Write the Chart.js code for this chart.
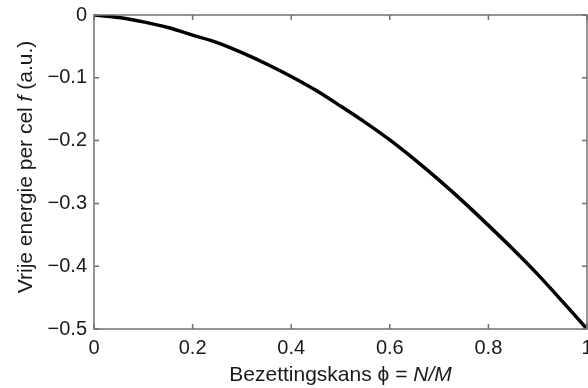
<!DOCTYPE html>
<html>
<head>
<meta charset="utf-8">
<script src="https://cdn.jsdelivr.net/npm/chart.js@4.4.1/dist/chart.umd.min.js"></script>
<style>
    html, body { margin: 0; padding: 0; background: #fff; }
    #wrap { width: 588px; height: 388px; }
</style>
</head>
<body>
<div id="wrap"><canvas id="energyChart" width="588" height="388"></canvas></div>
<script>
// occupation probability phi = N/M and free energy per cell f (a.u.)
const phi = [0, 0.05, 0.1, 0.15, 0.2, 0.25, 0.3, 0.35, 0.4, 0.45, 0.5,
             0.55, 0.6, 0.65, 0.7, 0.75, 0.8, 0.85, 0.9, 0.95, 1];
const energy = [0, -0.004, -0.011, -0.020, -0.032, -0.044, -0.060, -0.078, -0.098, -0.120, -0.145,
                -0.171, -0.199, -0.230, -0.263, -0.298, -0.335, -0.373, -0.413, -0.456, -0.5];

const xTicks = [0, 0.2, 0.4, 0.6, 0.8, 1];
const xTickLabels = ['0', '0.2', '0.4', '0.6', '0.8', '1'];
const yTicks = [-0.5, -0.4, -0.3, -0.2, -0.1, 0];
const yTickLabels = ['\u22120.5', '\u22120.4', '\u22120.3', '\u22120.2', '\u22120.1', '0'];

const FONT = '"Liberation Sans", Arial, Helvetica, sans-serif';
const AXIS_COLOR = '#707070';
const TEXT_COLOR = '#1a1a1a';

// box around the plot area with inward ticks on all four sides
const framePlugin = {
    id: 'frame',
    afterDraw(chart) {
        const { ctx, chartArea: a, scales } = chart;
        const len = 5;
        ctx.save();
        ctx.strokeStyle = AXIS_COLOR;
        ctx.lineWidth = 1.5;
        ctx.strokeRect(a.left, a.top, a.right - a.left, a.bottom - a.top);
        ctx.beginPath();
        xTicks.forEach(v => {
            const x = scales.x.getPixelForValue(v);
            ctx.moveTo(x, a.bottom); ctx.lineTo(x, a.bottom - len);
            ctx.moveTo(x, a.top); ctx.lineTo(x, a.top + len);
        });
        yTicks.forEach(v => {
            const y = scales.y.getPixelForValue(v);
            ctx.moveTo(a.left, y); ctx.lineTo(a.left + len, y);
            ctx.moveTo(a.right, y); ctx.lineTo(a.right - len, y);
        });
        ctx.stroke();
        ctx.restore();
    }
};

// axis titles with italic parts
function drawMixed(ctx, parts, cx, cy, size) {
    const widths = parts.map(p => {
        ctx.font = (p.italic ? 'italic ' : '') + size + 'px ' + FONT;
        return ctx.measureText(p.text).width;
    });
    const total = widths.reduce((s, w) => s + w, 0);
    let x = cx - total / 2;
    parts.forEach((p, i) => {
        ctx.font = (p.italic ? 'italic ' : '') + size + 'px ' + FONT;
        ctx.fillText(p.text, x, cy);
        x += widths[i];
    });
}

const titlePlugin = {
    id: 'axisTitles',
    afterDraw(chart) {
        const { ctx, chartArea: a } = chart;
        ctx.save();
        ctx.fillStyle = TEXT_COLOR;
        ctx.textAlign = 'left';
        ctx.textBaseline = 'alphabetic';
        drawMixed(ctx, [
            { text: 'Bezettingskans \u03d5 = ' },
            { text: 'N/M', italic: true }
        ], (a.left + a.right) / 2, 381, 21);

        ctx.translate(32, (a.top + a.bottom) / 2 - 5);
        ctx.rotate(-Math.PI / 2);
        drawMixed(ctx, [
            { text: 'Vrije energie per cel ' },
            { text: 'f', italic: true },
            { text: ' (a.u.)' }
        ], 0, 0, 21);
        ctx.restore();
    }
};

new Chart(document.getElementById('energyChart'), {
    type: 'scatter',
    data: {
        datasets: [{
            data: phi.map((p, i) => ({ x: p, y: energy[i] })),
            showLine: true,
            borderColor: '#000',
            borderWidth: 3.5,
            pointRadius: 0,
            tension: 0.3,
            fill: false
        }]
    },
    options: {
        responsive: false,
        animation: false,
        layout: { padding: { top: 15, right: 1, left: 0, bottom: 0 } },
        plugins: {
            legend: { display: false },
            tooltip: { enabled: false }
        },
        scales: {
            x: {
                type: 'linear',
                min: 0,
                max: 1,
                afterFit(scale) {
                    scale.height = 59;
                    scale.paddingLeft = 0;
                    scale.paddingRight = 0;
                },
                afterBuildTicks(scale) { scale.ticks = xTicks.map(v => ({ value: v })); },
                ticks: {
                    padding: 7,
                    maxRotation: 0,
                    color: TEXT_COLOR,
                    font: { family: FONT, size: 20 },
                    callback: (v, i) => xTickLabels[i]
                },
                grid: { display: false, drawTicks: false },
                border: { display: false }
            },
            y: {
                type: 'linear',
                min: -0.5,
                max: 0,
                afterFit(scale) {
                    scale.width = 94;
                    scale.paddingTop = 0;
                    scale.paddingBottom = 0;
                },
                afterBuildTicks(scale) { scale.ticks = yTicks.map(v => ({ value: v })); },
                ticks: {
                    padding: 7,
                    color: TEXT_COLOR,
                    font: { family: FONT, size: 20 },
                    callback: (v, i) => yTickLabels[i]
                },
                grid: { display: false, drawTicks: false },
                border: { display: false }
            }
        }
    },
    plugins: [framePlugin, titlePlugin]
});
</script>
</body>
</html>
